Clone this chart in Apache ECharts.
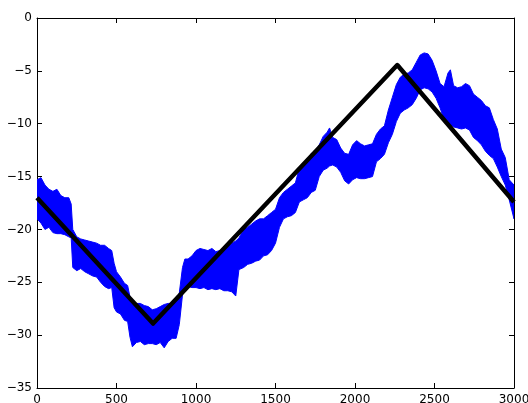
<!DOCTYPE html>
<html><head><meta charset="utf-8">
<script src="https://cdn.jsdelivr.net/npm/echarts@6/dist/echarts.min.js"></script>
<style>html,body{margin:0;padding:0;background:#fff}#c{width:528px;height:403px}</style>
</head><body><div id="c"></div>
<script>
// Noisy signal envelope (upper / lower edge)
const bandX = [0,25,50,75,100,125,150,175,200,215,225,250,275,300,325,350,375,400,425,450,
  470,485,500,525,550,570,585,600,625,650,675,700,725,750,775,800,825,850,875,895,
  915,930,950,975,1000,1025,1050,1075,1100,1125,1150,1175,1200,1225,1250,1270,1300,1325,1350,1375,
  1400,1425,1450,1475,1500,1525,1550,1575,1600,1625,1650,1675,1700,1725,1750,1775,1800,1825,1840,1860,
  1885,1910,1935,1960,1985,2010,2035,2060,2085,2110,2135,2160,2185,2210,2235,2260,2285,2310,2335,2360,
  2385,2410,2435,2460,2485,2510,2535,2560,2585,2600,2620,2645,2670,2695,2720,2745,2770,2795,2820,2845,
  2870,2895,2920,2945,2970,3000];
const bandUpper = [-15.3,-15.1,-15.8,-16.2,-16.4,-16.2,-16.8,-17.0,-17.0,-17.6,-20.0,-20.7,-20.9,-21.0,-21.1,-21.2,-21.3,-21.5,-21.5,-21.8,
  -22.0,-23.2,-24.0,-24.5,-25.1,-25.3,-26.4,-26.7,-27.0,-27.0,-27.2,-27.3,-27.6,-27.5,-27.3,-27.1,-27.0,-27.0,-26.8,-26.0,
  -23.6,-22.8,-22.8,-22.5,-22.0,-21.8,-21.9,-22.0,-21.8,-22.1,-22.0,-22.0,-21.6,-21.3,-21.1,-20.8,-20.0,-19.8,-19.5,-19.2,
  -19.0,-19.0,-18.7,-18.4,-18.1,-17.0,-16.5,-16.2,-15.9,-15.6,-14.2,-13.8,-13.5,-12.8,-12.7,-12.0,-11.2,-10.8,-10.4,-11.3,
  -11.5,-12.3,-12.8,-12.9,-12.0,-11.6,-11.9,-12.1,-12.0,-11.9,-11.0,-10.5,-10.2,-8.7,-7.5,-6.3,-5.6,-5.3,-5.2,-4.9,
  -4.2,-3.5,-3.3,-3.4,-4.0,-5.0,-6.2,-6.5,-5.2,-4.9,-6.4,-6.6,-6.5,-6.2,-6.4,-7.2,-7.5,-7.8,-8.3,-8.5,
  -9.6,-10.5,-12.4,-13.2,-15.3,-15.8];
const bandLower = [-19.0,-19.4,-20.0,-19.8,-20.3,-20.4,-20.4,-20.5,-20.7,-20.8,-23.6,-23.9,-23.7,-24.0,-24.2,-24.4,-24.5,-25.0,-25.4,-25.6,
  -25.5,-27.4,-27.8,-28.0,-28.6,-28.7,-30.2,-31.1,-30.7,-30.6,-30.9,-30.8,-30.8,-30.9,-30.7,-31.2,-30.6,-30.3,-30.3,-29.0,
  -26.2,-25.5,-25.4,-25.5,-25.5,-25.6,-25.5,-25.7,-25.6,-25.7,-25.6,-25.8,-25.8,-25.9,-26.3,-23.8,-23.6,-23.3,-23.2,-23.0,
  -22.9,-22.5,-22.4,-22.0,-21.3,-19.8,-19.0,-18.8,-18.7,-18.4,-17.4,-17.2,-17.0,-16.5,-16.3,-15.0,-14.4,-14.2,-14.0,-13.9,
  -14.1,-14.6,-15.4,-15.7,-15.3,-15.1,-15.2,-15.2,-15.1,-15.0,-13.6,-13.3,-12.9,-11.8,-11.0,-9.8,-9.0,-8.7,-8.5,-8.2,
  -7.6,-6.8,-6.6,-6.7,-7.0,-7.6,-8.5,-9.6,-10.0,-10.1,-10.3,-10.4,-10.5,-10.4,-10.6,-11.3,-11.6,-12.0,-12.6,-13.0,
  -13.3,-14.1,-15.0,-15.8,-17.2,-19.0];
// Piecewise linear fit (black)
const fitX = [0, 730, 2266, 3000];
const fitY = [-17, -28.9, -4.45, -17.4];
// Axes
const xMin = 0, xMax = 3000, xStep = 500;
const yMin = -35, yMax = 0, yStep = 5;

const chart = echarts.init(document.getElementById('c'), null, {renderer: 'canvas'});
const FONT = 'DejaVu Sans';
const minus = v => String(v).replace('-', '\u2212');
function axisBase(extra) {
  return Object.assign({
    type: 'value',
    axisLine: {show: true, onZero: false, lineStyle: {color: '#000', width: 1}},
    axisTick: {show: true, inside: true, length: 5, lineStyle: {color: '#000', width: 1}},
    splitLine: {show: false},
    axisLabel: {color: '#000', fontSize: 12, fontFamily: FONT, formatter: minus}
  }, extra);
}
const n = bandX.length;
chart.setOption({
  animation: false,
  grid: {left: 37, right: 14, top: 18, bottom: 15, containLabel: false, outerBoundsMode: 'none'},
  xAxis: [
    axisBase({min: xMin, max: xMax, interval: xStep, position: 'bottom', axisLabel: {color: '#000', fontSize: 12, fontFamily: FONT, margin: 6, formatter: minus}}),
    axisBase({min: xMin, max: xMax, interval: xStep, position: 'top', axisLabel: {show: false}})
  ],
  yAxis: [
    axisBase({min: yMin, max: yMax, interval: yStep, position: 'left', axisLabel: {color: '#000', fontSize: 12, fontFamily: FONT, margin: 5, formatter: minus}}),
    axisBase({min: yMin, max: yMax, interval: yStep, position: 'right', axisLabel: {show: false}})
  ],
  series: [
    {
      type: 'custom',
      clip: true,
      z: 2,
      data: bandX.map((x, i) => [x, bandUpper[i], bandLower[i]]),
      encode: {x: 0, y: [1, 2]},
      renderItem: function (params, api) {
        if (params.dataIndex !== 0) return null;
        const pts = [];
        for (let i = 0; i < n; i++) pts.push(api.coord([bandX[i], bandUpper[i]]));
        for (let i = n - 1; i >= 0; i--) pts.push(api.coord([bandX[i], bandLower[i]]));
        return {type: 'polygon', shape: {points: pts}, style: {fill: '#0000ff', stroke: '#0000ff', lineWidth: 1}};
      }
    },
    {
      type: 'line',
      z: 3,
      symbol: 'none',
      data: fitX.map((x, i) => [x, fitY[i]]),
      lineStyle: {color: '#000', width: 4.5, join: 'round'}
    }
  ]
});
</script>
</body></html>
